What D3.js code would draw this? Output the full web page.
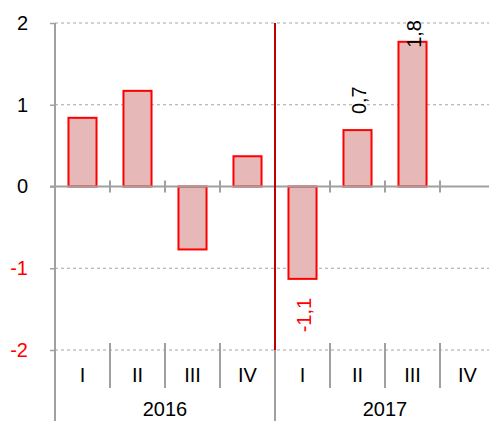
<!DOCTYPE html>
<html>
<head>
<meta charset="utf-8">
<script src="https://cdn.jsdelivr.net/npm/d3@7"></script>
<style>
  body { margin: 0; background: #fff; }
  text { font-family: "Liberation Sans", Arial, sans-serif; }
</style>
</head>
<body>
<div id="chart"></div>
<script>
// Data
const years = ["2016", "2017"];
const quarters = ["I", "II", "III", "IV"];
const values2016 = [0.84, 1.17, -0.77, 0.37];
const values2017 = [-1.13, 0.69, 1.77, null];
const yTicks = [-2, -1, 0, 1, 2];

const width = 489, height = 421;
const plotLeft = 55, plotRight = 495, plotTop = 23, plotBottom = 350;

const data = [];
years.forEach((yr, i) => {
  const vals = i === 0 ? values2016 : values2017;
  quarters.forEach((q, j) => data.push({ key: yr + "-" + q, year: yr, q: q, value: vals[j], label: i === 1 }));
});

const svg = d3.select("#chart").append("svg")
  .attr("width", width)
  .attr("height", height);

const x = d3.scaleBand()
  .domain(data.map(d => d.key))
  .range([plotLeft, plotRight])
  .padding(0);

const y = d3.scaleLinear()
  .domain([-2, 2])
  .range([plotBottom, plotTop]);

const grey = "#a0a0a0";
// plain hyphen minus and decimal comma, like the original
const fmt = v => v.toFixed(1).replace(".", ",");

// Gridlines (dotted)
svg.append("g")
  .selectAll("line")
  .data(yTicks.filter(t => t !== 0))
  .enter().append("line")
  .attr("x1", plotLeft).attr("x2", width)
  .attr("y1", d => y(d)).attr("y2", d => y(d))
  .attr("stroke", "#a6a6a6")
  .attr("stroke-width", 1)
  .attr("stroke-dasharray", "3,3");

// Y axis
const yAxis = svg.append("g")
  .attr("transform", `translate(${plotLeft},0)`)
  .call(d3.axisLeft(y).tickValues(yTicks).tickSize(5).tickPadding(22).tickFormat(d => String(d)));
yAxis.select(".domain").remove();
yAxis.selectAll(".tick line").attr("stroke", grey).attr("stroke-width", 1.5);
yAxis.selectAll(".tick text")
  .style("font-size", "20px")
  .attr("fill", d => d < 0 ? "#ff0000" : "#000");
yAxis.attr("font-family", null).attr("font-size", null);
svg.append("line")
  .attr("x1", plotLeft).attr("x2", plotLeft)
  .attr("y1", plotTop).attr("y2", height)
  .attr("stroke", grey).attr("stroke-width", 2);

// Bars
const barW = x.bandwidth() * 0.51;
svg.append("g")
  .selectAll("rect")
  .data(data.filter(d => d.value !== null))
  .enter().append("rect")
  .attr("x", d => x(d.key) + (x.bandwidth() - barW) / 2)
  .attr("y", d => y(Math.max(0, d.value)))
  .attr("width", barW)
  .attr("height", d => Math.abs(y(d.value) - y(0)))
  .attr("fill", "#e6b9b8")
  .attr("stroke", "#ff0000")
  .attr("stroke-width", 2);

// Zero line
svg.append("line")
  .attr("x1", plotLeft - 5).attr("x2", width)
  .attr("y1", y(0)).attr("y2", y(0))
  .attr("stroke", grey).attr("stroke-width", 2);

// Category boundary ticks on zero line and in the label area
const bounds = d3.range(1, data.length).map(i => x(data[i].key));
svg.append("g")
  .selectAll("line")
  .data(bounds)
  .enter().append("line")
  .attr("x1", d => d).attr("x2", d => d)
  .attr("y1", y(0) - 6).attr("y2", y(0) + 6)
  .attr("stroke", grey).attr("stroke-width", 2);
svg.append("g")
  .selectAll("line")
  .data(bounds)
  .enter().append("line")
  .attr("x1", d => d).attr("x2", d => d)
  .attr("y1", plotBottom - 7)
  .attr("y2", (d, i) => (i + 1) % quarters.length === 0 ? height : 388)
  .attr("stroke", grey).attr("stroke-width", 2);

// Year divider
svg.append("line")
  .attr("x1", x("2017-I")).attr("x2", x("2017-I"))
  .attr("y1", plotTop).attr("y2", plotBottom)
  .attr("stroke", "#c00000").attr("stroke-width", 2);

// Quarter labels
svg.append("g")
  .selectAll("text")
  .data(data)
  .enter().append("text")
  .attr("x", d => x(d.key) + x.bandwidth() / 2)
  .attr("y", 382)
  .attr("text-anchor", "middle")
  .style("font-size", "20px")
  .text(d => d.q);

// Year labels
svg.append("g")
  .selectAll("text")
  .data(years)
  .enter().append("text")
  .attr("x", yr => (x(yr + "-I") + x(yr + "-IV") + x.bandwidth()) / 2)
  .attr("y", 416)
  .attr("text-anchor", "middle")
  .style("font-size", "20px")
  .text(yr => yr);

// Value labels (rotated) for 2017
svg.append("g")
  .selectAll("text")
  .data(data.filter(d => d.label && d.value !== null))
  .enter().append("text")
  .style("font-size", "20px")
  .attr("fill", d => d.value < 0 ? "#ff0000" : "#000")
  .attr("dy", "0.35em")
  .text(d => fmt(d.value))
  .each(function(d) {
    const len = this.getComputedTextLength();
    const cx = x(d.key) + x.bandwidth() / 2 + 1;
    let base;
    if (d.value >= 0) {
      base = Math.max(y(d.value) - 16, 20 + len);
    } else {
      base = y(d.value) + 19 + len;
    }
    d3.select(this).attr("transform", `translate(${cx},${base}) rotate(-90)`);
  });
</script>
</body>
</html>
